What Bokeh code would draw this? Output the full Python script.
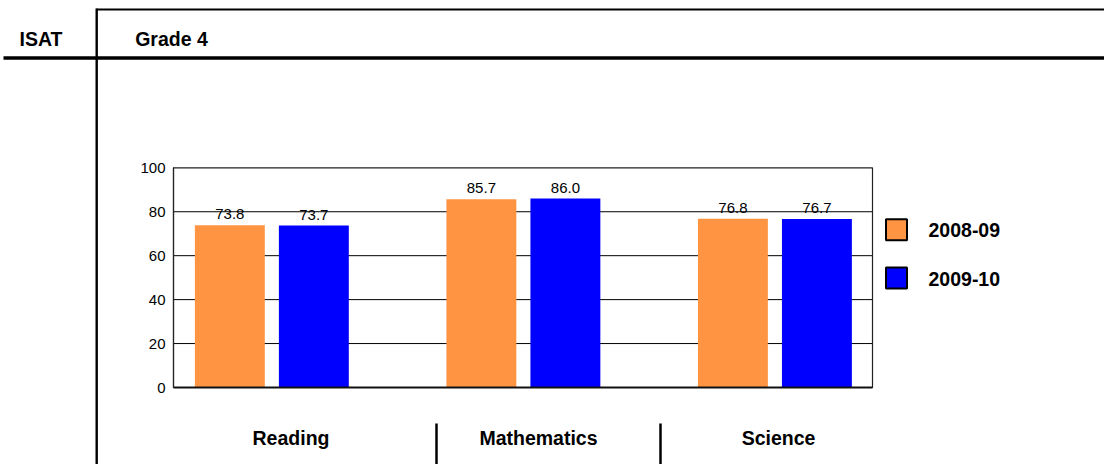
from bokeh.plotting import figure
from bokeh.models import Range1d, FixedTicker, ColumnDataSource, LinearAxis
from bokeh.transform import dodge
from bokeh.core.properties import value
from bokeh.embed import file_html
from bokeh.resources import INLINE

# ---- data ----
categories = ["Reading", "Mathematics", "Science"]
series_names = ["2008-09", "2009-10"]
values_2008_09 = [73.8, 85.7, 76.8]
values_2009_10 = [73.7, 86.0, 76.7]
y_ticks = [0, 20, 40, 60, 80, 100]
header_left = "ISAT"
header_right = "Grade 4"

# ---- style / layout constants (page pixels) ----
W, H = 1104, 464
ORANGE = "#FF9442"
BLUE = "#0000FF"
BOLD_FONT = "Liberation Sans"
BOLD_SIZE = "19.5px"
REG_FONT = "Liberation Sans"
REG_SIZE = "15px"
BOLD_SHIFT = -8        # baseline correction for the bold texts
REG_SHIFT = -6         # baseline correction for the value labels

FL, FR, FT, FB = 173, 872, 167.3, 387      # plot box edges
XMIN, XMAX = -0.391, 2.388                 # category-index window of the plot box
YMIN, YMAX = 0, 100
OFF, BW = 0.167, 0.278                     # bar dodge and width (category units)

sx = (FR - FL) / (XMAX - XMIN)
sy = (FB - FT) / (YMAX - YMIN)
cat_range = Range1d(XMIN - FL / sx, XMAX + (W - FR) / sx)
val_range = Range1d(YMIN - (H - FB) / sy, YMAX + FT / sy)

p = figure(width=W, height=H, x_range=Range1d(0, W), y_range=Range1d(H, 0),
           x_axis_location=None, y_axis_location=None, toolbar_location=None,
           output_backend="svg", min_border=0, outline_line_color=None)
p.grid.visible = False
p.extra_x_ranges = {"cat": cat_range}
p.extra_y_ranges = {"val": val_range}

# ---- page frame lines ----
p.segment(x0=[96], y0=[9], x1=[W], y1=[9], line_color="black", line_width=2)
p.segment(x0=[3], y0=[57.5], x1=[W], y1=[57.5], line_color="black", line_width=3.5)
p.segment(x0=[96.2], y0=[8], x1=[96.2], y1=[H], line_color="black", line_width=2.4)
p.text(x=[40.5, 171], y=[46.3 + BOLD_SHIFT, 46.5 + BOLD_SHIFT], text=[header_left, header_right],
       text_align="center", text_baseline="alphabetic", text_font=value(BOLD_FONT),
       text_font_style="bold", text_font_size=BOLD_SIZE, text_color="black")

# ---- chart ----
src = ColumnDataSource(dict(
    idx=list(range(len(categories))),
    v08=values_2008_09,
    v09=values_2009_10,
    l08=[f"{v:.1f}" for v in values_2008_09],
    l09=[f"{v:.1f}" for v in values_2009_10],
))
inner = [t for t in y_ticks if YMIN < t < YMAX]
grid_src = ColumnDataSource(dict(y=inner, x0=[XMIN] * len(inner), x1=[XMAX] * len(inner)))
p.segment(x0="x0", y0="y", x1="x1", y1="y", source=grid_src, x_range_name="cat",
          y_range_name="val", line_color="black", line_width=1)

p.vbar(x=dodge("idx", -OFF), top="v08", width=BW, source=src, fill_color=ORANGE,
       line_color=None, x_range_name="cat", y_range_name="val")
p.vbar(x=dodge("idx", OFF), top="v09", width=BW, source=src, fill_color=BLUE,
       line_color=None, x_range_name="cat", y_range_name="val")

p.quad(left=[XMIN], right=[XMAX], bottom=[YMIN], top=[YMAX], x_range_name="cat",
       y_range_name="val", fill_color=None, line_color="#222222", line_width=1.2)
p.segment(x0=[XMIN], y0=[YMIN], x1=[XMAX], y1=[YMIN], x_range_name="cat",
          y_range_name="val", line_color="#111111", line_width=2)

p.text(x=dodge("idx", -OFF), y="v08", text="l08", source=src, text_align="center",
       text_baseline="alphabetic", y_offset=-5 + REG_SHIFT, text_font=value(REG_FONT),
       text_font_size=REG_SIZE, text_color="black", x_range_name="cat", y_range_name="val")
p.text(x=dodge("idx", OFF), y="v09", text="l09", source=src, text_align="center",
       text_baseline="alphabetic", y_offset=-5 + REG_SHIFT, text_font=value(REG_FONT),
       text_font_size=REG_SIZE, text_color="black", x_range_name="cat", y_range_name="val")

yaxis = LinearAxis(y_range_name="val", fixed_location=FL, bounds=(YMIN, YMAX),
                   ticker=FixedTicker(ticks=y_ticks))
yaxis.major_tick_out = 0
yaxis.major_tick_in = 0
yaxis.minor_tick_line_color = None
yaxis.axis_line_color = "#222222"
yaxis.axis_line_width = 1.2
yaxis.major_label_standoff = 8
yaxis.major_label_text_font = REG_FONT
yaxis.major_label_text_font_size = REG_SIZE
yaxis.major_label_text_color = "black"
p.add_layout(yaxis, "left")

# ---- legend ----
leg_y = [229.3, 277.6]
p.rect(x=[896, 896], y=leg_y, width=21, height=21, fill_color=[ORANGE, BLUE],
       line_color="black", line_width=2)
p.text(x=[928, 928], y=[237.8 + BOLD_SHIFT, 286.1 + BOLD_SHIFT], text=series_names,
       text_align="left", text_baseline="alphabetic", text_font=value(BOLD_FONT),
       text_font_style="bold", text_font_size=BOLD_SIZE, text_color="black")

# ---- category strip ----
sep_x = [436, 660]
p.segment(x0=sep_x, y0=[423, 423], x1=sep_x, y1=[H, H], line_color="black", line_width=2.5)
label_x = [290.5, 538, 778]
p.text(x=label_x, y=[445.3 + BOLD_SHIFT] * 3, text=categories, text_align="center",
       text_baseline="alphabetic", text_font=value(BOLD_FONT), text_font_style="bold",
       text_font_size=BOLD_SIZE, text_color="black")

open("out.html", "w").write(file_html(p, INLINE))
